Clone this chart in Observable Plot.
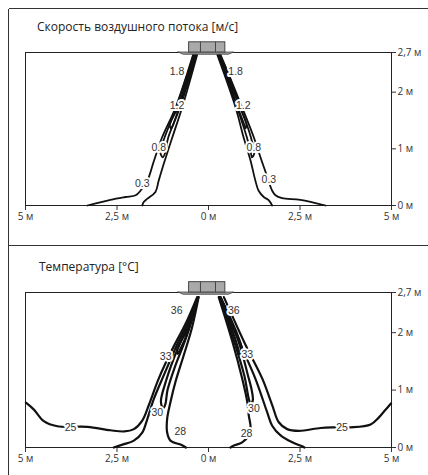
<!DOCTYPE html>
<html><head><meta charset="utf-8">
<script src="https://cdn.jsdelivr.net/npm/d3@7"></script>
<script src="https://cdn.jsdelivr.net/npm/@observablehq/plot@0.6"></script>
<style>
body{margin:0;background:#fff;}
#wrap{position:relative;width:428px;height:475px;overflow:hidden;font-family:"Open Sans",sans-serif;}
.hline{position:absolute;height:0;border-top:1.5px solid #333;z-index:2;}
.vline{position:absolute;width:0;border-left:1.5px solid #333;z-index:2;}
.title{position:absolute;font-size:12px;line-height:12px;color:#222;white-space:nowrap;z-index:3;}
.panel{position:absolute;left:0;z-index:1;}
</style></head><body>
<div id="wrap">
 <div class="panel" id="p1" style="top:0px"></div>
 <div class="panel" id="p2" style="top:240px"></div>
 <div class="hline" style="left:9px;top:8px;width:419px"></div>
 <div class="vline" style="left:8px;top:9px;height:466px"></div>
 <div class="hline" style="left:9px;top:245px;width:419px"></div>
 <div class="title" style="left:37px;top:21px">Скорость воздушного потока [м/с]</div>
 <div class="title" style="left:39px;top:261px">Температура [°C]</div>
</div>
<script>
// ---------- axes ----------
const xTickValues = [-5, -2.5, 0, 2.5, 5];
const xTickLabels = ["5 м", "2,5 м", "0 м", "2,5 м", "5 м"];
const yTickValues = [0, 1, 2, 2.7];
const yTickLabels = ["0 м", "1 м", "2 м", "2,7 м"];

// ---------- diffuser (metres) ----------
const diffuserBox = [{x1: -0.53, x2: 0.46, y1: 2.7, y2: 2.88}];
const diffuserDividers = [-0.22, 0.19];
const diffuserFlange = [
  {x: -0.82, y1: 2.7, y2: 2.7}, {x: -0.68, y1: 2.66, y2: 2.7},
  {x: 0.56, y1: 2.66, y2: 2.7}, {x: 0.70, y1: 2.7, y2: 2.7}
];

// ---------- air velocity contours [m/s] ----------
const vel03LeftOuter = [[-0.42,2.66],[-0.9,1.73],[-1.27,1.2],[-1.49,0.79],[-1.67,0.44],[-1.86,0.26],[-1.99,0.18],[-2.27,0.15],[-2.68,0.10],[-3.31,0]];
const vel03LeftInner = [[-0.31,2.66],[-0.72,1.73],[-0.99,1.2],[-1.22,0.74],[-1.36,0.44],[-1.45,0.24],[-1.67,0.12],[-1.77,0.06],[-1.81,0]];
const vel08Left = [[-0.41,2.66],[-0.88,1.73],[-1.20,1.2],[-1.32,0.95],[-1.25,0.85],[-1.19,0.92],[-1.10,1.2],[-0.78,1.73],[-0.33,2.66]];
const vel12Left = [[-0.39,2.66],[-0.84,1.73],[-1.06,1.42],[-1.02,1.36],[-0.97,1.42],[-0.80,1.73],[-0.34,2.66]];
const vel18Left = [[-0.38,2.66],[-0.62,2.2],[-0.68,2.08],[-0.66,2.04],[-0.62,2.1],[-0.35,2.66]];
const vel03RightInner = [[0.24,2.66],[0.74,1.73],[0.96,1.2],[1.15,0.79],[1.28,0.44],[1.37,0.26],[1.51,0.15],[1.65,0.09],[1.74,0]];
const vel03RightOuter = [[0.33,2.66],[0.92,1.73],[1.24,1.2],[1.42,0.85],[1.56,0.59],[1.74,0.26],[1.83,0.18],[2.01,0.13],[2.51,0.10],[3.2,0]];
const vel08Right = [[0.26,2.66],[0.78,1.73],[1.05,1.2],[1.16,0.92],[1.19,0.85],[1.25,0.92],[1.16,1.2],[0.88,1.73],[0.31,2.66]];
const vel12Right = [[0.27,2.66],[0.80,1.73],[0.98,1.42],[1.01,1.36],[1.04,1.42],[0.86,1.73],[0.30,2.66]];
const vel18Right = [[0.28,2.66],[0.55,2.15],[0.60,2.06],[0.64,2.12],[0.31,2.66]];
const velLabelText = ["1.8", "1.8", "1.2", "1.2", "0.8", "0.8", "0.3", "0.3"];
const velLabelX = [-0.86, 0.74, -0.86, 0.95, -1.36, 1.24, -1.81, 1.65];
const velLabelY = [2.36, 2.37, 1.77, 1.76, 1.03, 1.02, 0.38, 0.45];

// ---------- temperature contours [°C] ----------
const temp25Left = [[-4.99,0.78],[-4.77,0.66],[-4.50,0.46],[-4.13,0.37],[-3.31,0.36],[-2.68,0.30],[-2.30,0.28],[-2.04,0.32],[-1.81,0.47],[-1.63,0.74],[-1.36,1.20],[-0.99,1.71],[-0.63,2.15],[-0.31,2.62]];
const temp27Left = [[-2.59,0],[-2.35,0.05],[-2.04,0.12],[-1.81,0.26],[-1.67,0.50],[-1.49,0.85],[-1.22,1.26],[-0.86,1.79],[-0.54,2.20],[-0.29,2.62]];
const temp28Left = [[-0.62,0],[-0.72,0.04],[-1.04,0.12],[-1.13,0.26],[-1.13,0.50],[-1.04,0.79],[-0.90,1.15],[-0.67,1.62],[-0.45,2.09],[-0.27,2.62]];
const temp30Left = [[-0.29,2.62],[-0.62,2.05],[-0.95,1.55],[-1.19,1.10],[-1.30,0.80],[-1.24,0.68],[-1.18,0.75],[-1.12,1.0],[-0.92,1.4],[-0.62,1.9],[-0.28,2.62]];
const temp33Left = [[-0.29,2.62],[-0.62,2.02],[-0.86,1.70],[-0.84,1.63],[-0.78,1.70],[-0.56,2.02],[-0.28,2.62]];
const temp36Left = [[-0.29,2.62],[-0.55,2.15],[-0.66,1.98],[-0.64,1.95],[-0.58,2.02],[-0.45,2.25],[-0.28,2.62]];
const temp25Right = [[0.42,2.62],[1.01,1.79],[1.47,1.20],[1.74,0.74],[1.92,0.44],[2.15,0.32],[2.47,0.29],[3.06,0.34],[3.42,0.35],[3.88,0.35],[4.43,0.40],[4.65,0.52],[4.80,0.63],[4.99,0.77]];
const temp27Right = [[0.33,2.62],[0.92,1.73],[1.28,1.20],[1.60,0.62],[1.74,0.38],[1.97,0.21],[2.29,0.09],[2.56,0.02],[2.62,0]];
const temp28Right = [[0.28,2.62],[0.65,1.85],[0.92,1.20],[1.06,0.79],[1.10,0.56],[1.15,0.35],[1.10,0.21],[0.92,0.09],[0.68,0.03],[0.60,0]];
const temp30Right = [[0.29,2.62],[0.70,1.85],[0.98,1.25],[1.10,0.85],[1.15,0.76],[1.21,0.82],[1.18,1.0],[1.08,1.25],[0.82,1.85],[0.31,2.62]];
const temp33Right = [[0.30,2.62],[0.70,1.95],[0.84,1.66],[0.86,1.62],[0.92,1.68],[0.80,1.95],[0.32,2.62]];
const temp36Right = [[0.30,2.62],[0.52,2.2],[0.60,2.02],[0.66,2.1],[0.32,2.62]];
const tempLabelText = ["36", "36", "33", "33", "30", "30", "28", "28", "25", "25"];
const tempLabelX = [-0.87, 0.69, -1.17, 1.06, -1.40, 1.24, -0.77, 1.04, -3.77, 3.65];
const tempLabelY = [2.38, 2.39, 1.59, 1.62, 0.60, 0.68, 0.28, 0.25, 0.35, 0.34];

// ---------- helpers ----------
function rows(list) {
  return list.flatMap(([id, pts]) => pts.map(([x, y]) => ({id, x, y})));
}
function labelRows(t, xs, ys) { return t.map((s, i) => ({text: s, x: xs[i], y: ys[i]})); }

const velRows = rows([
  ["v03LO", vel03LeftOuter], ["v03LI", vel03LeftInner], ["v08L", vel08Left], ["v12L", vel12Left], ["v18L", vel18Left],
  ["v03RI", vel03RightInner], ["v03RO", vel03RightOuter], ["v08R", vel08Right], ["v12R", vel12Right], ["v18R", vel18Right]
]);
const tempRows = rows([
  ["t25L", temp25Left], ["t27L", temp27Left], ["t28L", temp28Left], ["t30L", temp30Left], ["t33L", temp33Left], ["t36L", temp36Left],
  ["t25R", temp25Right], ["t27R", temp27Right], ["t28R", temp28Right], ["t30R", temp30Right], ["t33R", temp33Right], ["t36R", temp36Right]
]);

function panel(lineRows, labels, strokeWidth, marginBottom) {
  return Plot.plot({
    width: 428, height: 237,
    marginTop: 52, marginBottom, marginLeft: 25, marginRight: 37,
    style: {background: "transparent", fontFamily: "'Open Sans', sans-serif", fontSize: "10px", color: "#333", overflow: "visible"},
    x: {domain: [-5, 5], ticks: xTickValues, tickFormat: d => xTickLabels[xTickValues.indexOf(d)], tickSize: 5, tickPadding: 2, label: null},
    y: {domain: [0, 2.7], axis: "right", ticks: yTickValues, tickFormat: d => yTickLabels[yTickValues.indexOf(d)], tickSize: 4, tickPadding: 2, label: null},
    marks: [
      Plot.frame({stroke: "#222", strokeWidth: 1}),
      Plot.line(lineRows, {x: "x", y: "y", z: "id", stroke: "#111", strokeWidth, curve: "catmull-rom", strokeLinejoin: "round"}),
      Plot.areaY(diffuserFlange, {x: "x", y1: "y1", y2: "y2", fill: "#9a9a9a", stroke: "#444", strokeWidth: 0.8}),
      Plot.rect(diffuserBox, {x1: "x1", x2: "x2", y1: "y1", y2: "y2", fill: "#a9a9a9", stroke: "#444", strokeWidth: 1}),
      Plot.ruleX(diffuserDividers, {y1: 2.7, y2: 2.88, stroke: "#444", strokeWidth: 1}),
      Plot.text(labels, {x: "x", y: "y", text: "text", fill: "#333", stroke: "white", strokeWidth: 4, fontSize: 10.5, fontFamily: "'Liberation Sans', Arial, sans-serif"})
    ]
  });
}

document.getElementById("p1").append(panel(velRows, labelRows(velLabelText, velLabelX, velLabelY), 1.8, 32));
document.getElementById("p2").append(panel(tempRows, labelRows(tempLabelText, tempLabelX, tempLabelY), 2.2, 30));
</script>
</body></html>
